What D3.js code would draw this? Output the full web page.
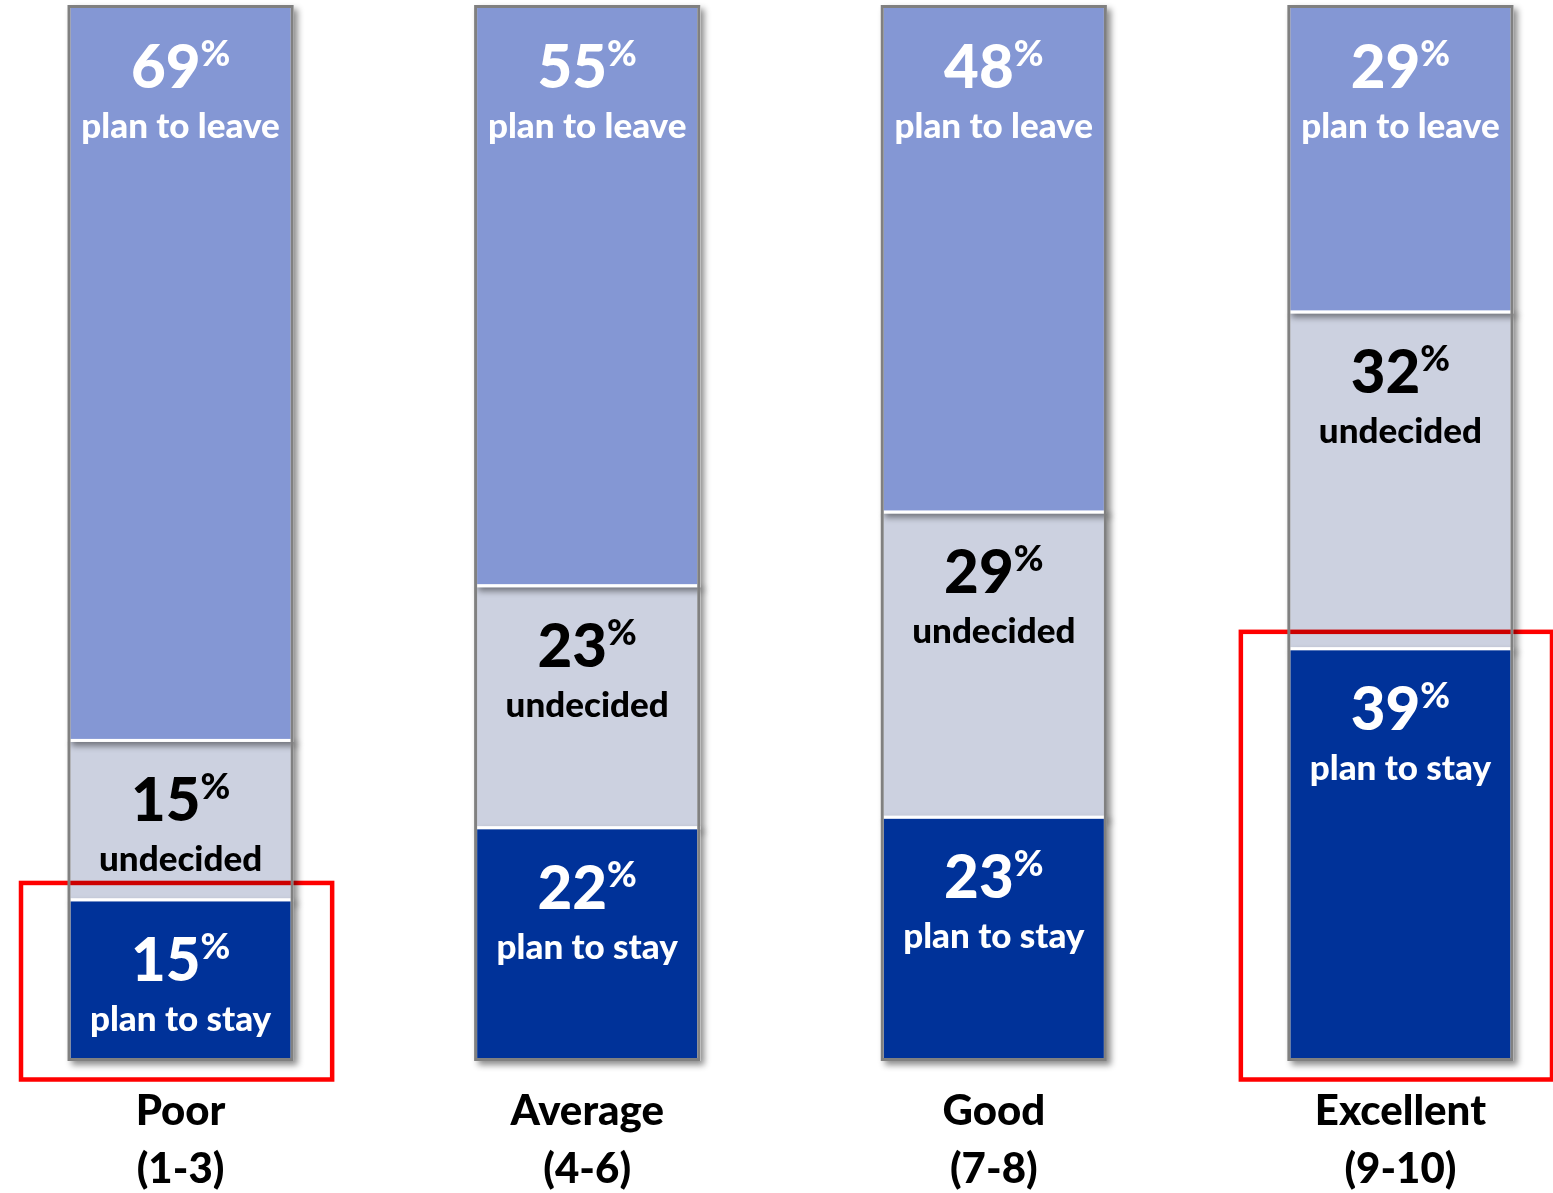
<!DOCTYPE html>
<html>
<head>
<meta charset="utf-8">
<script src="https://cdn.jsdelivr.net/npm/d3@7"></script>
<style>
  html, body { margin: 0; padding: 0; background: #fff; }
  svg { display: block; font-family: Lato, "Open Sans", sans-serif; }
</style>
</head>
<body>
<svg id="chart" width="1553" height="1193"></svg>
<script>
// Intent to stay, by rating group
const categories = ["Poor", "Average", "Good", "Excellent"];
const ranges = ["(1-3)", "(4-6)", "(7-8)", "(9-10)"];
const planToStay = [15, 22, 23, 39];
const undecided = [15, 23, 29, 32];
const planToLeave = [69, 55, 48, 29];
const segmentLabels = ["plan to stay", "undecided", "plan to leave"];
const highlighted = ["Poor", "Excellent"];

const keys = ["stay", "undecided", "leave"];
const colors = { stay: "#003399", undecided: "#CCD1E0", leave: "#8497D4" };
const textColors = { stay: "#ffffff", undecided: "#000000", leave: "#ffffff" };
const labelOf = { stay: segmentLabels[0], undecided: segmentLabels[1], leave: segmentLabels[2] };

const rows = categories.map((c, i) => ({
  category: c,
  range: ranges[i],
  stay: planToStay[i],
  undecided: undecided[i],
  leave: planToLeave[i]
}));

const svg = d3.select("#chart");

const x = d3.scaleBand()
  .domain(categories)
  .range([69, 1512])
  .paddingInner(0.4512)
  .paddingOuter(0);

const y = d3.scaleLinear().domain([0, 1]).range([1059.5, 6.5]);

const series = d3.stack().keys(keys).offset(d3.stackOffsetExpand)(rows);
const byKey = Object.fromEntries(series.map(s => [s.key, s]));

// soft drop shadow for the bar segments
const defs = svg.append("defs");
const f = defs.append("filter").attr("id", "shadow")
  .attr("x", "-10%").attr("y", "-10%").attr("width", "130%").attr("height", "130%");
f.append("feDropShadow")
  .attr("dx", 4).attr("dy", 4).attr("stdDeviation", 3)
  .attr("flood-color", "#000").attr("flood-opacity", 0.45);

// segments: undecided first so the neighbours' shadows fall on it
const drawOrder = ["undecided", "leave", "stay"];
const segLayer = svg.append("g");
drawOrder.forEach(k => {
  segLayer.append("g")
    .selectAll("rect")
    .data(byKey[k])
    .join("rect")
    .attr("x", d => x(d.data.category))
    .attr("width", x.bandwidth())
    .attr("y", d => y(d[1]))
    .attr("height", d => y(d[0]) - y(d[1]))
    .attr("fill", colors[k])
    .attr("stroke", "#ffffff")
    .attr("stroke-width", 3)
    .attr("filter", "url(#shadow)");
});

// highlight frames around the "plan to stay" segment
const hiRows = byKey.stay.filter(d => highlighted.includes(d.data.category));
svg.append("g")
  .selectAll("rect")
  .data(hiRows)
  .join("rect")
  .attr("x", d => x(d.data.category) - 48)
  .attr("y", d => y(d[1]) - 17)
  .attr("width", x.bandwidth() + 88)
  .attr("height", d => y(0) - y(d[1]) + 37)
  .attr("fill", "none")
  .attr("stroke", "#FF0000")
  .attr("stroke-width", 4.5)
  .style("mix-blend-mode", "multiply");

// grey outline of each bar
svg.append("g")
  .selectAll("rect")
  .data(categories)
  .join("rect")
  .attr("x", d => x(d))
  .attr("width", x.bandwidth())
  .attr("y", y(1))
  .attr("height", y(0) - y(1))
  .attr("fill", "none")
  .attr("stroke", "#808080")
  .attr("stroke-width", 3);

// value + caption inside each segment
const labelLayer = svg.append("g").attr("text-anchor", "middle").attr("font-weight", 900);
keys.forEach(k => {
  const g = labelLayer.append("g").selectAll("g")
    .data(byKey[k])
    .join("g")
    .attr("transform", d => `translate(${x(d.data.category) + x.bandwidth() / 2},${y(d[1])})`)
    .attr("fill", textColors[k]);

  const t = g.append("text").attr("y", 81);
  t.append("tspan").attr("font-size", 60).text(d => d.data[k]);
  t.append("tspan").attr("font-size", 36).attr("dy", -22).text("%");

  g.append("text")
    .attr("y", 131)
    .attr("font-size", 35)
    .text(labelOf[k]);
});

// category labels below bars
const cat = svg.append("g").attr("text-anchor", "middle").attr("font-weight", 900)
  .attr("font-size", 42).attr("fill", "#000");
cat.selectAll("g")
  .data(rows)
  .join("g")
  .attr("transform", d => `translate(${x(d.category) + x.bandwidth() / 2},0)`)
  .each(function (d) {
    const g = d3.select(this);
    g.append("text").attr("y", 1125).text(d.category);
    g.append("text").attr("y", 1183).text(d.range);
  });
</script>
</body>
</html>
